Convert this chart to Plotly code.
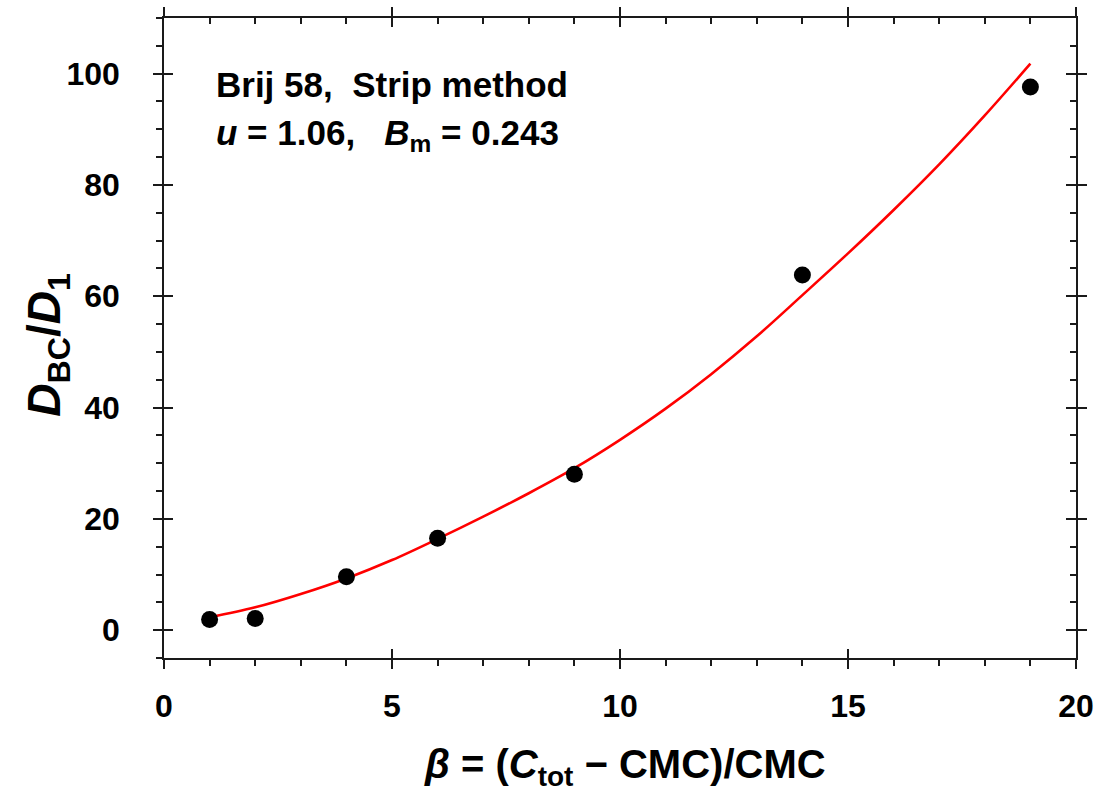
import plotly.graph_objects as go

# Data
beta_pts = [1, 2, 4, 6, 9, 14, 19]
ratio_pts = [1.9, 2.1, 9.6, 16.5, 28.0, 63.8, 97.6]

beta_fit = [1, 2, 3, 4, 5, 6, 7, 8, 9, 10, 11, 12, 13, 14, 15, 16, 17, 18, 19]
ratio_fit = [2.3, 4.1, 6.5, 9.3, 12.6, 16.4, 20.4, 24.6, 29.1, 34.2, 39.8, 46.0, 52.8, 60.2, 67.7, 75.5, 83.7, 92.5, 101.8]

x_range = [0, 20]
y_range = [-5, 110]

FONT = "Arial, Liberation Sans, sans-serif"
LINE = "#1a1a1a"

fig = go.Figure()
fig.add_trace(go.Scatter(x=beta_fit, y=ratio_fit, mode="lines",
                         line=dict(color="#ff0000", width=2.6, shape="spline", smoothing=1.0),
                         showlegend=False, hoverinfo="skip"))
fig.add_trace(go.Scatter(x=beta_pts, y=ratio_pts, mode="markers",
                         marker=dict(color="black", size=17),
                         showlegend=False))

tickfont = dict(family=FONT, size=32, color="black", weight="bold")

common_x = dict(range=x_range, dtick=5, tick0=0, showgrid=False, zeroline=False,
                tickcolor=LINE, tickwidth=1.5, fixedrange=True, automargin=False)
common_y = dict(range=y_range, dtick=20, tick0=0, showgrid=False, zeroline=False,
                tickcolor=LINE, tickwidth=1.5, fixedrange=True, automargin=False)

fig.update_layout(
    width=1098, height=791,
    margin=dict(l=164, r=22, t=18, b=133),
    paper_bgcolor="white", plot_bgcolor="white",
    xaxis=dict(**common_x, side="bottom", anchor="y", showline=True, linecolor=LINE, linewidth=1.5,
               ticks="outside", ticklen=9, tickfont=tickfont, ticklabelstandoff=10,
               ticklabeloverflow="allow",
               minor=dict(dtick=1, ticks="outside", ticklen=6, tickcolor=LINE, tickwidth=1.5)),
    xaxis2=dict(**common_x, overlaying="x", side="bottom", anchor="y", showline=False,
                ticks="inside", ticklen=9, showticklabels=False),
    xaxis3=dict(**common_x, overlaying="x", side="top", anchor="y", showline=True, linecolor=LINE, linewidth=1.5,
                ticks="inside", ticklen=9, showticklabels=False,
                minor=dict(dtick=1, ticks="inside", ticklen=6, tickcolor=LINE, tickwidth=1.5)),
    xaxis4=dict(**common_x, overlaying="x", side="top", anchor="y", showline=False,
                ticks="outside", ticklen=10, showticklabels=False),
    yaxis=dict(**common_y, side="left", anchor="x", showline=True, linecolor=LINE, linewidth=1.5,
               ticks="outside", ticklen=9, tickfont=tickfont, ticklabelstandoff=27,
               ticklabeloverflow="allow",
               minor=dict(dtick=5, ticks="outside", ticklen=6, tickcolor=LINE, tickwidth=1.5)),
    yaxis2=dict(**common_y, overlaying="y", side="left", anchor="x", showline=False,
                ticks="inside", ticklen=9, showticklabels=False),
    yaxis3=dict(**common_y, overlaying="y", side="right", anchor="x", showline=True, linecolor=LINE, linewidth=1.5,
                ticks="inside", ticklen=10, showticklabels=False,
                minor=dict(dtick=5, ticks="inside", ticklen=6, tickcolor=LINE, tickwidth=1.5)),
    yaxis4=dict(**common_y, overlaying="y", side="right", anchor="x", showline=False,
                ticks="outside", ticklen=10, showticklabels=False),
)

# dummy invisible traces so overlay axes are drawn
for xa, ya in [("x2", "y2"), ("x3", "y3"), ("x4", "y4")]:
    fig.add_trace(go.Scatter(x=[None], y=[None], xaxis=xa, yaxis=ya, showlegend=False, hoverinfo="skip"))

annfont = dict(family=FONT, size=35, color="black", weight="bold")
fig.add_annotation(x=1.1, y=98.1, xref="x", yref="y", xanchor="left", yanchor="middle",
                   text="Brij 58,  Strip method", showarrow=False, font=annfont)
fig.add_annotation(x=1.1, y=89.0, xref="x", yref="y", xanchor="left", yanchor="middle",
                   text="<i>u</i> = 1.06,   <i>B</i><sub>m</sub> = 0.243", showarrow=False, font=annfont)

titlefont = dict(family=FONT, size=40, color="black", weight="bold")
fig.add_annotation(x=0.506, y=-0.17, xref="paper", yref="paper", xanchor="center", yanchor="middle",
                   text="<i>β</i> = (<i>C</i><sub>tot</sub> − CMC)/CMC", showarrow=False, font=titlefont)
fig.add_annotation(x=-0.128, y=0.49, xref="paper", yref="paper", xanchor="center", yanchor="middle",
                   textangle=-90, text="<i>D</i><sub>BC</sub>/<i>D</i><sub>1</sub>", showarrow=False,
                   font=dict(family=FONT, size=46, color="black", weight="bold"))

fig.write_html("out.html")
